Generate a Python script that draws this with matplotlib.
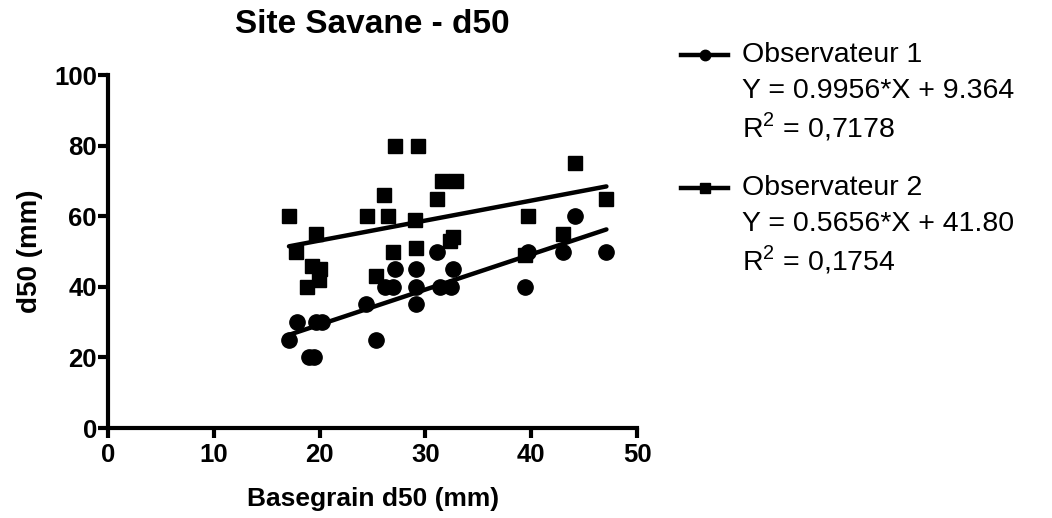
import matplotlib
matplotlib.use("Agg")
import matplotlib.pyplot as plt
from matplotlib.lines import Line2D
import numpy as np

plt.rcParams['font.family'] = ['Liberation Sans', 'DejaVu Sans']
plt.rcParams['mathtext.fontset'] = 'custom'
plt.rcParams['mathtext.rm'] = 'Liberation Sans'

# Observateur 1 (circles)
obs1_x = [17.1, 17.9, 19.0, 19.5, 19.7, 20.2, 24.4, 25.3, 26.2, 26.9, 27.1, 29.1,
          29.1, 29.1, 31.1, 31.4, 32.4, 32.6, 39.4, 39.7, 43.0, 44.1, 47.1]
obs1_y = [25, 30, 20, 20, 30, 30, 35, 25, 40, 40, 45, 45,
          40, 35, 50, 40, 40, 45, 40, 50, 50, 60, 50]

# Observateur 2 (squares)
obs2_x = [17.1, 17.8, 18.8, 19.3, 19.7, 19.9, 20.0, 24.45, 25.3, 26.1, 26.5, 26.9, 27.1,
          29.0, 29.1, 29.3, 31.1, 31.6, 32.9, 32.3, 32.6, 39.4, 39.7, 43.0, 44.1, 47.1]
obs2_y = [60, 50, 40, 46, 55, 42, 45, 60, 43, 66, 60, 50, 80,
          59, 51, 80, 65, 70, 70, 53, 54, 49, 60, 55, 75, 65]

# linear fits as reported
fit1 = (0.9956, 9.364)
fit2 = (0.5656, 41.80)
labels = [["Observateur 1", "Y = 0.9956*X + 9.364", "R$^{2}$ = 0,7178"],
          ["Observateur 2", "Y = 0.5656*X + 41.80", "R$^{2}$ = 0,1754"]]

fig = plt.figure(figsize=(10.52, 5.18), dpi=100)
ax = fig.add_axes([0.1027, 0.1737, 0.5029, 0.6815])

ax.plot(obs1_x, obs1_y, 'o', color='black', markersize=11, linestyle='none')
ax.plot(obs2_x, obs2_y, 's', color='black', markersize=10.5, linestyle='none')

for (slope, icpt), xs in [(fit1, obs1_x), (fit2, obs2_x)]:
    xx = np.array([min(xs), max(xs)])
    ax.plot(xx, slope * xx + icpt, color='black', linewidth=3.2, solid_capstyle='round')

ax.set_xlim(0, 50)
ax.set_ylim(0, 100)
ax.set_xticks(range(0, 51, 10))
ax.set_yticks(range(0, 101, 20))
for s in ['top', 'right']:
    ax.spines[s].set_visible(False)
for s in ['left', 'bottom']:
    ax.spines[s].set_linewidth(3)
ax.tick_params(width=3, length=7, direction='out', labelsize=18.5)
ax.tick_params(axis='x', pad=4)
ax.tick_params(axis='y', pad=1)
for lbl in ax.get_xticklabels() + ax.get_yticklabels():
    lbl.set_fontweight('bold')

ax.set_title("Site Savane - d50", fontsize=24, fontweight='bold', pad=30)
ax.set_xlabel("Basegrain d50 (mm)", fontsize=19, fontweight='bold', labelpad=14)
ax.set_ylabel("d50 (mm)", fontsize=20, fontweight='bold', labelpad=8)

# legend drawn by hand: handle beside first line of each block
W, H = 1052, 518
blocks = [(55, 'o'), (188, 's')]
for (ytop, mk), lines in zip(blocks, labels):
    yf = 1 - ytop / H
    fig.add_artist(Line2D([681 / W, 728 / W], [yf, yf], color='black', linewidth=3.2,
                          transform=fig.transFigure))
    fig.add_artist(Line2D([705 / W], [yf], color='black', marker=mk,
                          markersize=7.5, transform=fig.transFigure))
    for i, t in enumerate(lines):
        fig.text(742 / W, 1 - (ytop + 36 * i) / H, t, fontsize=20.5, va='center', ha='left')

fig.savefig("out.png", dpi=100, facecolor='white')
